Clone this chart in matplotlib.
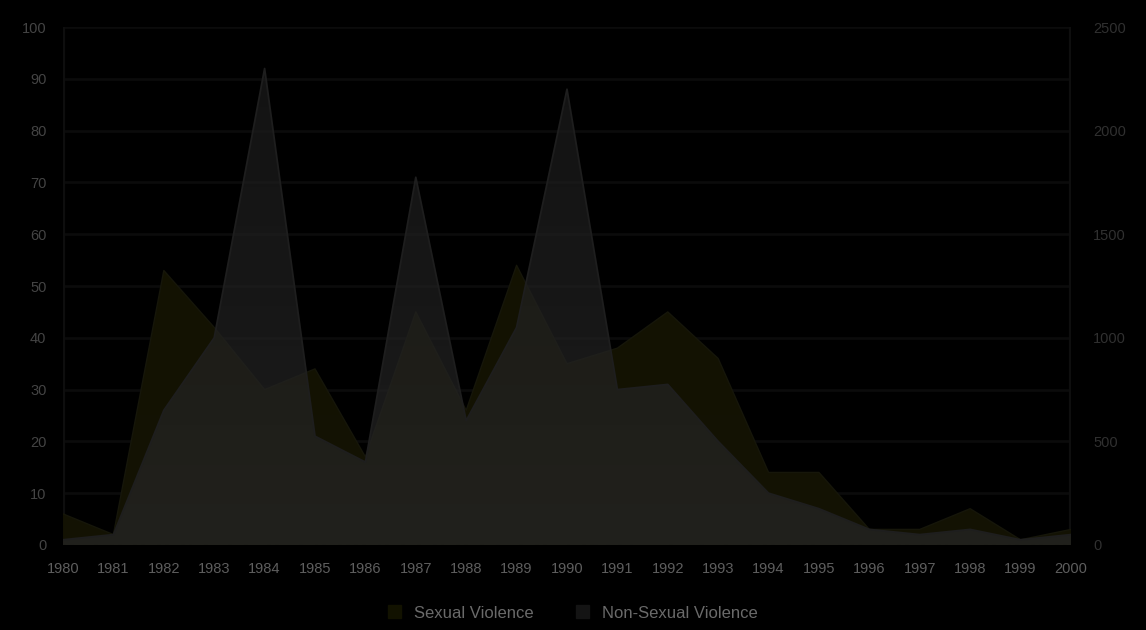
import numpy as np
from matplotlib import pyplot as plt

years = list(range(1980, 2001))
sexual = [6, 2, 53, 42, 30, 34, 17, 45, 26, 54, 35, 38, 45, 36, 14, 14, 3, 3, 7, 1, 3]
non_sexual = [25, 50, 650, 1000, 2300, 525, 400, 1775, 600, 1050, 2200, 750, 775, 500,
              250, 175, 75, 50, 75, 25, 50]
left_ticks = list(range(0, 101, 10))
right_ticks = list(range(0, 2501, 500))

FONT = 'Liberation Sans'


def gradient_area(ax, x, y, top_rgb, bottom_rgb, alpha, ymax, zorder):
    """Fill under y with a vertical colour gradient clipped to the area."""
    poly = ax.fill_between(x, 0, y, facecolor='none', edgecolor='none')
    t = np.linspace(0, 1, 256)
    img = np.zeros((256, 1, 4))
    for i in range(3):
        img[:, 0, i] = (top_rgb[i] + (bottom_rgb[i] - top_rgb[i]) * t) / 255
    img[:, 0, 3] = alpha
    im = ax.imshow(img, extent=[x[0], x[-1], 0, ymax], aspect='auto',
                   origin='upper', zorder=zorder, interpolation='bilinear')
    im.set_clip_path(poly.get_paths()[0], transform=ax.transData)
    return poly


fig = plt.figure(figsize=(11.46, 6.3), dpi=100, facecolor='black')
ax = fig.add_axes([0.055, 0.135, 0.8795, 0.822])
ax.set_facecolor('black')
ax2 = ax.twinx()
ax2.patch.set_visible(False)

# gridlines behind everything
for v in left_ticks:
    ax.axhline(v, color='#0b0b0b', lw=2, zorder=0)

# sexual violence (left axis), behind
gradient_area(ax, years, sexual, (19, 18, 0), (20, 19, 4), 1.0, 100, 1)
ax.plot(years, sexual, color='#16160a', lw=1.0, zorder=2)

# non-sexual violence (right axis), in front, semi-transparent
gradient_area(ax2, years, non_sexual, (27, 27, 27), (40, 40, 40), 0.7, 2500, 3)
ax2.plot(years, non_sexual, color='#1e1e1e', lw=1.3, zorder=4)

ax.set_xlim(1980, 2000)
ax.set_ylim(0, 100)
ax2.set_ylim(0, 2500)
ax2.set_xlim(1980, 2000)

ax.set_yticks(left_ticks)
ax2.set_yticks(right_ticks)
ax.set_xticks(years)
ax.set_xticklabels([str(y) for y in years])

for a in (ax, ax2):
    for s in a.spines.values():
        s.set_visible(False)
    a.tick_params(length=0)

ax.axvline(1980, color='#0e0e0e', lw=3, zorder=0)
ax.axvline(2000, color='#0e0e0e', lw=3, zorder=0)

ax.tick_params(axis='y', colors='#444444', labelsize=10.5, pad=12)
ax.tick_params(axis='x', colors='#5e5e5e', labelsize=10.5, pad=12)
ax2.tick_params(axis='y', colors='#303030', labelsize=10.5, pad=16)
for lab in ax.get_xticklabels() + ax.get_yticklabels() + ax2.get_yticklabels():
    lab.set_family(FONT)

handles = [plt.Rectangle((0, 0), 1, 1, color='#121200'),
           plt.Rectangle((0, 0), 1, 1, color='#141414')]
fig.legend(handles, ['Sexual Violence', 'Non-Sexual Violence'], loc='center',
           bbox_to_anchor=(0.5, 0.027), ncol=2, frameon=False,
           handlelength=0.8, handleheight=0.8, columnspacing=2.5,
           prop={'family': FONT, 'size': 12}, labelcolor='#6a6a6a')

fig.savefig('out.png', dpi=100, facecolor='black')
